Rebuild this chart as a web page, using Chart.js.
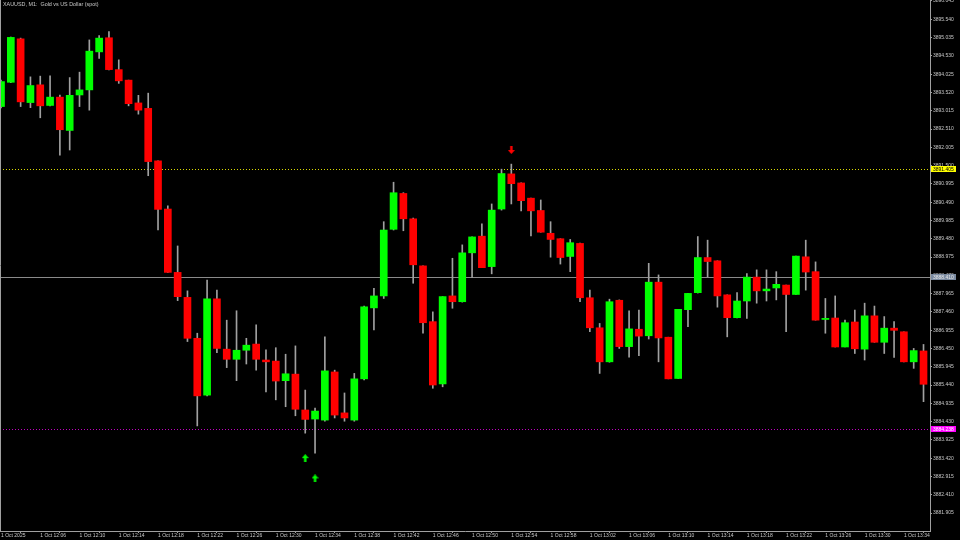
<!DOCTYPE html>
<html><head><meta charset="utf-8">
<script src="https://cdn.jsdelivr.net/npm/chart.js@4.4.1/dist/chart.umd.min.js"></script>
<style>html,body{margin:0;padding:0;background:#000;overflow:hidden}#wrap{width:960px;height:540px;position:relative}</style>
</head><body><div id="wrap"><canvas id="c" width="960" height="540"></canvas></div>
<script>
const chartTitle = 'XAUUSD, M1:  Gold vs US Dollar (spot)';

const opens = [3893.13,3893.80,3895.00,3893.24,3893.73,3893.16,3893.39,3892.47,3893.45,3893.59,
3894.64,3895.03,3894.15,3893.86,3893.23,3893.08,3891.63,3890.30,3888.55,3887.86,
3886.73,3885.16,3887.82,3886.43,3886.15,3886.40,3886.57,3886.13,3886.10,3885.56,
3885.74,3884.75,3884.50,3884.47,3885.80,3884.67,3884.47,3885.61,3887.57,3887.90,
3889.74,3890.73,3890.03,3888.73,3887.19,3885.47,3887.90,3887.74,3889.09,3889.55,
3888.71,3890.30,3891.27,3891.02,3890.60,3890.26,3889.63,3889.48,3888.99,3889.35,
3887.85,3887.02,3886.08,3887.78,3886.50,3886.98,3886.80,3888.28,3886.76,3885.62,
3887.52,3887.99,3888.96,3888.87,3887.93,3887.30,3887.76,3888.42,3888.04,3888.12,
3888.20,3887.94,3888.98,3888.57,3887.25,3887.29,3886.49,3887.18,3886.43,3887.35,
3886.62,3887.01,3886.91,3886.08,3886.38];
const highs = [3893.86,3895.05,3895.02,3893.95,3893.97,3893.98,3893.45,3893.93,3894.08,3894.97,
3895.09,3895.20,3894.42,3893.86,3893.44,3893.50,3891.63,3890.39,3889.28,3888.04,
3886.87,3888.34,3888.06,3887.23,3887.49,3886.73,3887.10,3886.41,3886.47,3886.29,
3886.52,3885.30,3884.80,3886.77,3885.85,3885.22,3885.76,3887.62,3888.11,3889.95,
3891.04,3890.75,3890.05,3888.73,3887.46,3887.88,3888.94,3889.31,3889.53,3889.89,
3890.44,3891.40,3891.54,3891.02,3890.60,3890.55,3889.95,3889.48,3889.46,3889.36,
3888.06,3887.14,3887.81,3887.79,3887.49,3887.51,3888.80,3888.48,3886.76,3887.53,
3887.97,3889.54,3889.44,3888.87,3887.93,3887.99,3888.52,3888.62,3888.62,3888.57,
3888.20,3889.00,3889.44,3888.84,3887.83,3887.90,3887.23,3887.51,3887.70,3887.62,
3887.33,3887.19,3886.91,3886.45,3886.56];
const lows = [3893.09,3893.79,3893.13,3893.10,3892.82,3893.15,3891.79,3891.93,3893.13,3893.03,
3894.46,3894.14,3893.77,3893.15,3892.92,3891.22,3889.72,3888.55,3887.77,3886.64,
3884.31,3885.14,3886.33,3885.92,3885.56,3886.02,3885.85,3885.25,3885.03,3884.84,
3884.59,3884.11,3883.56,3884.44,3884.53,3884.44,3884.44,3885.58,3886.96,3887.83,
3889.72,3889.70,3888.25,3886.87,3885.35,3885.39,3887.56,3887.73,3888.41,3888.68,
3888.51,3890.27,3890.44,3890.25,3889.56,3889.66,3888.97,3888.78,3888.57,3887.74,
3886.91,3885.76,3886.07,3886.45,3886.21,3886.25,3886.71,3886.08,3885.61,3885.62,
3887.05,3887.98,3888.43,3887.59,3886.77,3887.29,3887.28,3887.70,3887.76,3887.79,
3886.91,3887.94,3888.06,3887.23,3886.87,3886.49,3886.49,3886.31,3886.13,3886.62,
3886.31,3886.20,3886.08,3885.90,3884.98];
const closes = [3893.82,3895.04,3893.26,3893.71,3893.15,3893.39,3892.49,3893.44,3893.59,3894.66,
3895.02,3894.15,3893.84,3893.21,3893.03,3891.61,3890.29,3888.55,3887.88,3886.73,
3885.14,3887.82,3886.45,3886.15,3886.40,3886.54,3886.15,3886.08,3885.55,3885.75,
3884.77,3884.49,3884.72,3885.83,3884.61,3884.53,3885.61,3887.60,3887.90,3889.72,
3890.75,3890.03,3888.76,3887.16,3885.44,3887.88,3887.74,3889.09,3889.53,3888.68,
3890.27,3891.28,3891.00,3890.53,3890.25,3889.66,3889.46,3888.96,3889.37,3887.85,
3887.02,3886.08,3887.74,3886.50,3886.99,3886.79,3888.28,3886.74,3885.61,3887.53,
3887.97,3888.96,3888.85,3887.90,3887.30,3887.76,3888.42,3888.04,3888.09,3888.22,
3887.94,3889.00,3888.56,3887.23,3887.28,3886.49,3887.16,3886.44,3887.35,3886.62,
3887.01,3886.95,3886.08,3886.39,3885.46];

const xTickLabels = ['1 Oct 2025','1 Oct 12:06','1 Oct 12:10','1 Oct 12:14','1 Oct 12:18','1 Oct 12:22',
'1 Oct 12:26','1 Oct 12:30','1 Oct 12:34','1 Oct 12:38','1 Oct 12:42','1 Oct 12:46','1 Oct 12:50',
'1 Oct 12:54','1 Oct 12:58','1 Oct 13:02','1 Oct 13:06','1 Oct 13:10','1 Oct 13:14','1 Oct 13:18',
'1 Oct 13:22','1 Oct 13:26','1 Oct 13:30','1 Oct 13:34'];
const xTickStep = 4;
const yTickLabels = ['3896.045','3895.540','3895.035','3894.530','3894.025','3893.520','3893.015',
'3892.510','3892.005','3891.500','3890.995','3890.490','3889.985','3889.480','3888.975','3888.470',
'3887.965','3887.460','3886.955','3886.450','3885.945','3885.440','3884.935','3884.430','3883.925',
'3883.420','3882.915','3882.410','3881.905'];

const upArrowIdx = [31, 32];
const upArrowPrice = [3883.42, 3882.86];
const downArrowIdx = [52];
const downArrowPrice = [3891.93];

const priceLineValues = [3891.405, 3888.410, 3884.238];
const priceLineLabels = ['3891.405', '3888.410', '3884.238'];

/* ---- styles ---- */
const BULL = '#00ff00', BEAR = '#ff0000', WICK = '#a0a0a0', AXIS = '#a0a0a0', TEXT = '#c8c8c8';
const lineStyles = [
  {color:'#d8d800', dash:[1,2], box:'#ffff00', text:'#000000'},
  {color:'#8a8a8a', dash:[], box:'#7a8aa0', text:'#e8e8e8'},
  {color:'#c000c0', dash:[1,2], box:'#ff00ff', text:'#ffffff'}
];
const FONT = {family:'Liberation Sans', size:5};

function makeArrow(color, up){
  const c = document.createElement('canvas'); c.width = 7; c.height = 8;
  const g = c.getContext('2d'); g.fillStyle = color;
  if(!up){ g.translate(0,8); g.scale(1,-1); }
  g.beginPath();
  g.moveTo(3.5,0); g.lineTo(7,4); g.lineTo(4.7,4); g.lineTo(4.7,8); g.lineTo(2.3,8); g.lineTo(2.3,4); g.lineTo(0,4);
  g.closePath(); g.fill();
  return c;
}

const idx = opens.map((_, i) => i);
const bodies = idx.map(i => ({x:i, y:[opens[i], closes[i]]}));
const wicks = idx.map(i => ({x:i, y:[lows[i], highs[i]]}));
const bodyColors = idx.map(i => closes[i] >= opens[i] ? BULL : BEAR);

const overlay = {
  id:'overlay',
  beforeDatasetsDraw(chart){
    const ctx = chart.ctx, ys = chart.scales.y, a = chart.chartArea;
    ctx.save();
    priceLineValues.forEach((v, k) => {
      const py = Math.round(ys.getPixelForValue(v)) + 0.5;
      ctx.strokeStyle = lineStyles[k].color; ctx.lineWidth = 1; ctx.setLineDash(lineStyles[k].dash);
      ctx.beginPath(); ctx.moveTo(a.left, py); ctx.lineTo(a.right, py); ctx.stroke();
    });
    ctx.restore();
  },
  afterDraw(chart){
    const ctx = chart.ctx, ys = chart.scales.y, a = chart.chartArea;
    ctx.save();
    ctx.strokeStyle = AXIS; ctx.lineWidth = 1;
    ctx.beginPath(); ctx.moveTo(a.left + 0.5, a.top); ctx.lineTo(a.left + 0.5, a.bottom); ctx.stroke();
    ctx.font = '5px "Liberation Sans"';
    ctx.textBaseline = 'middle'; ctx.textAlign = 'left';
    priceLineValues.forEach((v, k) => {
      const py = Math.round(ys.getPixelForValue(v));
      ctx.fillStyle = lineStyles[k].box;
      ctx.fillRect(a.right + 1, py - 3, 25, 6);
      ctx.fillStyle = lineStyles[k].text;
      ctx.fillText(priceLineLabels[k], a.right + 3, py + 0.5);
    });
    ctx.fillStyle = TEXT;
    ctx.font = '5.4px "Liberation Sans"';
    ctx.fillText(chartTitle, 3, 4.5);
    ctx.restore();
  }
};

new Chart(document.getElementById('c'), {
  type:'bar',
  data:{datasets:[
    {label:'up', type:'scatter', data: upArrowIdx.map((x,k)=>({x, y:upArrowPrice[k]})), pointStyle: makeArrow(BULL,true), order:0, showLine:false},
    {label:'down', type:'scatter', data: downArrowIdx.map((x,k)=>({x, y:downArrowPrice[k]})), pointStyle: makeArrow(BEAR,false), order:0, showLine:false},
    {label:'body', data: bodies, backgroundColor: bodyColors, barThickness:7, grouped:false, order:1, borderWidth:0, clip:0},
    {label:'wick', data: wicks, backgroundColor: WICK, barThickness:1, grouped:false, order:2, borderWidth:0, clip:0}
  ]},
  options:{
    responsive:false, animation:false, devicePixelRatio:1,
    layout:{padding:0, autoPadding:false},
    plugins:{legend:{display:false}, tooltip:{enabled:false}, title:{display:false}},
    scales:{
      x:{type:'linear', position:'bottom', min:-0.1019, max:94.661, offset:false,
        grid:{display:true, drawOnChartArea:false, drawTicks:true, tickLength:2, color:AXIS},
        border:{display:true, color:AXIS},
        afterBuildTicks(s){ s.ticks = xTickLabels.map((_, k) => ({value:k*xTickStep})); },
        afterFit(s){ s.height = 9; s.paddingLeft = 0; s.paddingRight = 0; },
        ticks:{autoSkip:false, maxRotation:0, minRotation:0, align:'start', padding:0, color:TEXT, font:FONT,
          callback:(v, i) => xTickLabels[i]}
      },
      y:{type:'linear', position:'right', min:3881.408, max:3896.0726,
        grid:{display:true, drawOnChartArea:false, drawTicks:true, tickLength:2, color:AXIS},
        border:{display:true, color:AXIS},
        afterBuildTicks(s){ s.ticks = yTickLabels.map(t => ({value:parseFloat(t)})); },
        afterFit(s){ s.width = 30; s.paddingTop = 0; s.paddingBottom = 0; },
        ticks:{autoSkip:false, padding:1, color:TEXT, font:FONT, callback:(v, i) => yTickLabels[i]}
      }
    }
  },
  plugins:[overlay]
});
</script></body></html>
